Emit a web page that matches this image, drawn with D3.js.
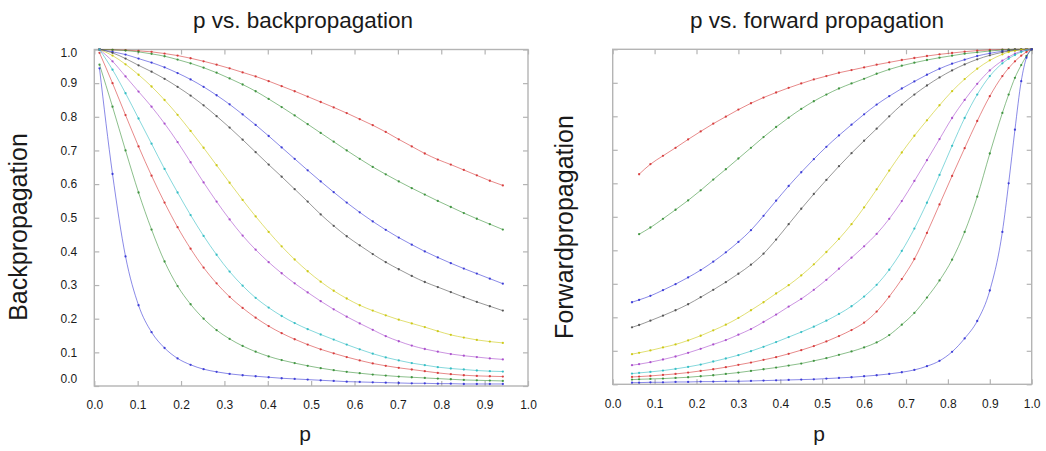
<!DOCTYPE html>
<html>
<head>
<meta charset="utf-8">
<script src="https://cdn.jsdelivr.net/npm/d3@7"></script>
<style>
  html, body { margin: 0; padding: 0; background: #fff; }
  svg { display: block; font-family: "Liberation Sans", Arial, Helvetica, sans-serif; }
</style>
</head>
<body>
<svg id="chart" width="1046" height="451"></svg>
<script>
// ── Data ─────────────────────────────────

const tickValues = [0, 0.1, 0.2, 0.3, 0.4, 0.5, 0.6, 0.7, 0.8, 0.9, 1.0];
const tickLabels = ['0.0', '0.1', '0.2', '0.3', '0.4', '0.5', '0.6', '0.7', '0.8', '0.9', '1.0'];

// p vs. backpropagation
const backX = [0.012, 0.042, 0.072, 0.102, 0.132, 0.162, 0.192, 0.222, 0.252, 0.282, 0.312, 0.342, 0.372, 0.402, 0.432, 0.462,
               0.492, 0.522, 0.552, 0.582, 0.612, 0.642, 0.672, 0.702, 0.732, 0.762, 0.792, 0.822, 0.852, 0.882, 0.912, 0.942];
const back1 = [1.000, 0.999, 0.998, 0.996, 0.993, 0.988, 0.982, 0.974, 0.965, 0.955, 0.944, 0.932, 0.920, 0.906, 0.891, 0.876,
               0.860, 0.844, 0.828, 0.811, 0.793, 0.775, 0.755, 0.733, 0.712, 0.691, 0.673, 0.658, 0.642, 0.626, 0.610, 0.596];
const back2 = [1.000, 0.999, 0.997, 0.993, 0.987, 0.980, 0.970, 0.959, 0.946, 0.931, 0.914, 0.896, 0.876, 0.853, 0.829, 0.804,
               0.778, 0.752, 0.726, 0.700, 0.675, 0.651, 0.629, 0.608, 0.588, 0.569, 0.550, 0.532, 0.514, 0.497, 0.481, 0.465];
const back3 = [1.000, 0.993, 0.985, 0.973, 0.961, 0.947, 0.930, 0.911, 0.889, 0.864, 0.837, 0.807, 0.776, 0.743, 0.709, 0.675,
               0.641, 0.608, 0.576, 0.545, 0.516, 0.489, 0.464, 0.441, 0.420, 0.400, 0.382, 0.365, 0.349, 0.334, 0.319, 0.304];
const back4 = [1.000, 0.990, 0.973, 0.953, 0.934, 0.913, 0.889, 0.863, 0.834, 0.802, 0.768, 0.732, 0.695, 0.658, 0.622, 0.585,
               0.548, 0.510, 0.476, 0.445, 0.418, 0.392, 0.368, 0.347, 0.327, 0.309, 0.294, 0.279, 0.264, 0.250, 0.237, 0.224];
const back5 = [1.000, 0.982, 0.956, 0.925, 0.890, 0.850, 0.806, 0.758, 0.708, 0.656, 0.604, 0.553, 0.504, 0.458, 0.415, 0.376,
               0.341, 0.310, 0.283, 0.260, 0.240, 0.224, 0.210, 0.197, 0.186, 0.175, 0.163, 0.152, 0.144, 0.137, 0.132, 0.128];
const back6 = [1.000, 0.965, 0.920, 0.875, 0.830, 0.780, 0.725, 0.665, 0.605, 0.548, 0.495, 0.447, 0.405, 0.368, 0.335, 0.305,
               0.278, 0.252, 0.228, 0.206, 0.186, 0.167, 0.148, 0.133, 0.120, 0.110, 0.102, 0.095, 0.090, 0.086, 0.082, 0.079];
const back7 = [1.000, 0.940, 0.870, 0.795, 0.720, 0.645, 0.575, 0.508, 0.446, 0.390, 0.340, 0.298, 0.262, 0.233, 0.208, 0.187,
               0.169, 0.153, 0.138, 0.123, 0.109, 0.096, 0.085, 0.076, 0.068, 0.062, 0.056, 0.052, 0.049, 0.046, 0.044, 0.043];
const back8 = [0.990, 0.900, 0.805, 0.712, 0.625, 0.545, 0.472, 0.408, 0.352, 0.305, 0.265, 0.232, 0.203, 0.178, 0.157, 0.139,
               0.123, 0.109, 0.097, 0.086, 0.076, 0.067, 0.060, 0.054, 0.049, 0.044, 0.039, 0.035, 0.032, 0.030, 0.029, 0.028];
const back9 = [0.955, 0.830, 0.700, 0.575, 0.465, 0.370, 0.297, 0.243, 0.200, 0.166, 0.140, 0.119, 0.102, 0.088, 0.077, 0.068,
               0.060, 0.053, 0.047, 0.042, 0.038, 0.034, 0.031, 0.028, 0.026, 0.024, 0.022, 0.020, 0.018, 0.017, 0.016, 0.015];
const back10 = [0.944, 0.630, 0.385, 0.240, 0.160, 0.113, 0.082, 0.063, 0.050, 0.042, 0.036, 0.032, 0.029, 0.026, 0.023, 0.021,
                0.019, 0.017, 0.015, 0.013, 0.012, 0.011, 0.010, 0.009, 0.008, 0.008, 0.007, 0.007, 0.006, 0.006, 0.006, 0.006];

// p vs. forward propagation
const fwdX = [0.046, 0.063, 0.09, 0.12, 0.15, 0.18, 0.21, 0.24, 0.27, 0.30, 0.33, 0.36, 0.39, 0.42, 0.45, 0.48, 0.51, 0.54,
              0.57, 0.60, 0.63, 0.66, 0.69, 0.72, 0.75, 0.78, 0.81, 0.84, 0.87, 0.90, 0.93, 0.945, 0.96, 0.975, 0.9875, 1.0];
const fwd1 = [null, 0.627, 0.657, 0.682, 0.706, 0.731, 0.755, 0.778, 0.799, 0.820, 0.839, 0.856, 0.871, 0.885, 0.898, 0.910, 0.920, 0.930,
              0.938, 0.946, 0.954, 0.961, 0.968, 0.974, 0.980, 0.985, 0.989, 0.993, 0.996, 0.998, 0.999, 0.999, 1.0, 1.0, 1.0, 1.0];
const fwd2 = [null, 0.448, 0.468, 0.494, 0.521, 0.549, 0.579, 0.611, 0.642, 0.674, 0.706, 0.738, 0.768, 0.796, 0.822, 0.845, 0.865, 0.883,
              0.898, 0.912, 0.927, 0.940, 0.951, 0.960, 0.968, 0.975, 0.981, 0.987, 0.991, 0.995, 0.998, 0.999, 1.0, 1.0, 1.0, 1.0];
const fwd3 = [0.245, 0.252, 0.264, 0.281, 0.299, 0.319, 0.341, 0.366, 0.394, 0.425, 0.460, 0.503, 0.548, 0.592, 0.633, 0.672, 0.709, 0.743,
              0.775, 0.806, 0.835, 0.860, 0.883, 0.904, 0.924, 0.942, 0.957, 0.969, 0.980, 0.988, 0.994, 0.996, 0.998, 0.999, 1.0, 1.0];
const fwd4 = [0.170, 0.177, 0.190, 0.205, 0.221, 0.239, 0.260, 0.282, 0.305, 0.330, 0.357, 0.390, 0.432, 0.478, 0.524, 0.568, 0.610, 0.651,
              0.690, 0.727, 0.763, 0.800, 0.835, 0.865, 0.892, 0.916, 0.937, 0.955, 0.970, 0.982, 0.991, 0.995, 0.997, 0.999, 1.0, 1.0];
const fwd5 = [0.090, 0.094, 0.101, 0.110, 0.119, 0.131, 0.145, 0.161, 0.178, 0.198, 0.221, 0.245, 0.271, 0.296, 0.325, 0.358, 0.395, 0.434,
              0.478, 0.528, 0.582, 0.638, 0.692, 0.742, 0.788, 0.833, 0.875, 0.911, 0.942, 0.967, 0.985, 0.992, 0.996, 0.999, 1.0, 1.0];
const fwd6 = [0.057, 0.060, 0.066, 0.074, 0.083, 0.094, 0.106, 0.119, 0.132, 0.148, 0.165, 0.186, 0.208, 0.232, 0.255, 0.282, 0.312, 0.345,
              0.378, 0.412, 0.449, 0.494, 0.547, 0.607, 0.669, 0.732, 0.795, 0.849, 0.897, 0.937, 0.966, 0.977, 0.987, 0.994, 0.998, 1.0];
const fwd7 = [0.032, 0.034, 0.037, 0.041, 0.046, 0.052, 0.059, 0.068, 0.077, 0.087, 0.099, 0.112, 0.126, 0.141, 0.156, 0.172, 0.190, 0.210,
              0.233, 0.262, 0.297, 0.342, 0.398, 0.465, 0.542, 0.625, 0.712, 0.795, 0.865, 0.920, 0.958, 0.972, 0.983, 0.992, 0.997, 1.0];
const fwd8 = [0.022, 0.023, 0.025, 0.028, 0.031, 0.035, 0.040, 0.045, 0.051, 0.058, 0.065, 0.073, 0.081, 0.091, 0.102, 0.114, 0.128, 0.144,
              0.162, 0.184, 0.217, 0.262, 0.314, 0.374, 0.452, 0.537, 0.622, 0.705, 0.786, 0.860, 0.920, 0.944, 0.964, 0.981, 0.992, 1.0];
const fwd9 = [0.014, 0.015, 0.016, 0.017, 0.019, 0.021, 0.024, 0.027, 0.031, 0.035, 0.040, 0.045, 0.050, 0.056, 0.062, 0.070, 0.078, 0.088,
              0.098, 0.110, 0.125, 0.147, 0.178, 0.213, 0.259, 0.310, 0.372, 0.455, 0.560, 0.689, 0.810, 0.865, 0.915, 0.953, 0.980, 1.0];
const fwd10 = [0.005, 0.005, 0.006, 0.006, 0.007, 0.007, 0.008, 0.008, 0.009, 0.009, 0.010, 0.011, 0.012, 0.013, 0.014, 0.015, 0.017, 0.019,
               0.021, 0.024, 0.027, 0.031, 0.036, 0.043, 0.054, 0.070, 0.097, 0.137, 0.189, 0.280, 0.455, 0.600, 0.760, 0.905, 0.975, 1.0];

const seriesColors = ['#d42a2a', '#2e8b2e', '#2a2ad4', '#444444', '#c8c400', '#a23ec8', '#22b8c0', '#d42a2a', '#2e8b2e', '#2a2ad4'];

// ── Drawing ──────────────────────────────

const svg = d3.select('#chart');
const frameColor = '#b4b4b4';
const textColor = '#1a1a1a';
const fmt = d => tickLabels[tickValues.indexOf(d)];

function drawPanel(o) {
    const g = svg.append('g');
    const x = d3.scaleLinear().domain([0, 1]).range([o.left, o.right]);
    const y = d3.scaleLinear().domain([0, 1]).range([o.bottom, o.top]);

    const ax = (axis, tx, ty) => g.append('g')
        .attr('transform', `translate(${tx},${ty})`)
        .call(axis)
        .call(s => s.select('.domain').remove())
        .call(s => s.selectAll('line').attr('stroke', frameColor).attr('stroke-width', 1.2))
        .call(s => s.selectAll('text').attr('fill', textColor).attr('font-size', 12)
            .attr('font-family', '"Liberation Sans", Arial, sans-serif'));

    ax(d3.axisBottom(x).tickValues(tickValues).tickSize(-5).tickPadding(o.xPad).tickFormat(fmt), 0, o.bottom);
    ax(d3.axisTop(x).tickValues(tickValues).tickSize(-5).tickFormat(''), 0, o.top);
    const yAx = ax(d3.axisLeft(y).tickValues(tickValues).tickSize(-5).tickPadding(17).tickFormat(o.yLabels ? fmt : ''), o.left, 0);
    ax(d3.axisRight(y).tickValues(tickValues).tickSize(-5).tickFormat(''), o.right, 0);

    // end labels sit a little inside the frame
    yAx.selectAll('.tick').filter(d => d === 1).select('text').attr('dy', '0.62em');
    yAx.selectAll('.tick').filter(d => d === 0).select('text').attr('dy', '-0.28em');

    g.append('rect')
        .attr('x', o.left).attr('y', o.top)
        .attr('width', o.right - o.left).attr('height', o.bottom - o.top)
        .attr('fill', 'none').attr('stroke', frameColor).attr('stroke-width', 1.4);

    const line = d3.line()
        .defined(d => d[1] != null)
        .x(d => x(d[0])).y(d => y(d[1]))
        .curve(d3.curveMonotoneX);

    o.series.forEach((vals, i) => {
        const pts = o.xs.map((xv, j) => [xv, vals[j]]);
        g.append('path').datum(pts)
            .attr('fill', 'none').attr('stroke', seriesColors[i])
            .attr('stroke-width', 1).attr('stroke-opacity', 0.55).attr('d', line);
        g.append('g').selectAll('circle').data(pts.filter(d => d[1] != null)).join('circle')
            .attr('cx', d => x(d[0])).attr('cy', d => y(d[1])).attr('r', 1.15)
            .attr('fill', seriesColors[i]).attr('fill-opacity', 0.85);
    });

    g.append('text').attr('x', o.titleX).attr('y', 27.5).attr('text-anchor', 'middle')
        .attr('font-size', 22.5).attr('fill', textColor).text(o.title);
    g.append('text').attr('x', o.titleX + 2).attr('y', 441).attr('text-anchor', 'middle')
        .attr('font-size', 21).attr('fill', textColor).text('p');
    g.append('text').attr('transform', `translate(${o.yTitleX},227) rotate(-90)`).attr('text-anchor', 'middle')
        .attr('font-size', 25).attr('fill', textColor).text(o.yTitle);
}

drawPanel({
    left: 94.3, right: 528, top: 49.5, bottom: 386, xPad: 14, yLabels: true,
    xs: backX, series: [back1, back2, back3, back4, back5, back6, back7, back8, back9, back10],
    title: 'p vs. backpropagation', titleX: 303, yTitle: 'Backpropagation', yTitleX: 27
});

drawPanel({
    left: 612.7, right: 1031.7, top: 49.3, bottom: 384.3, xPad: 15.5, yLabels: false,
    xs: fwdX, series: [fwd1, fwd2, fwd3, fwd4, fwd5, fwd6, fwd7, fwd8, fwd9, fwd10],
    title: 'p vs. forward propagation', titleX: 817, yTitle: 'Forwardpropagation', yTitleX: 573
});
</script>
</body>
</html>
